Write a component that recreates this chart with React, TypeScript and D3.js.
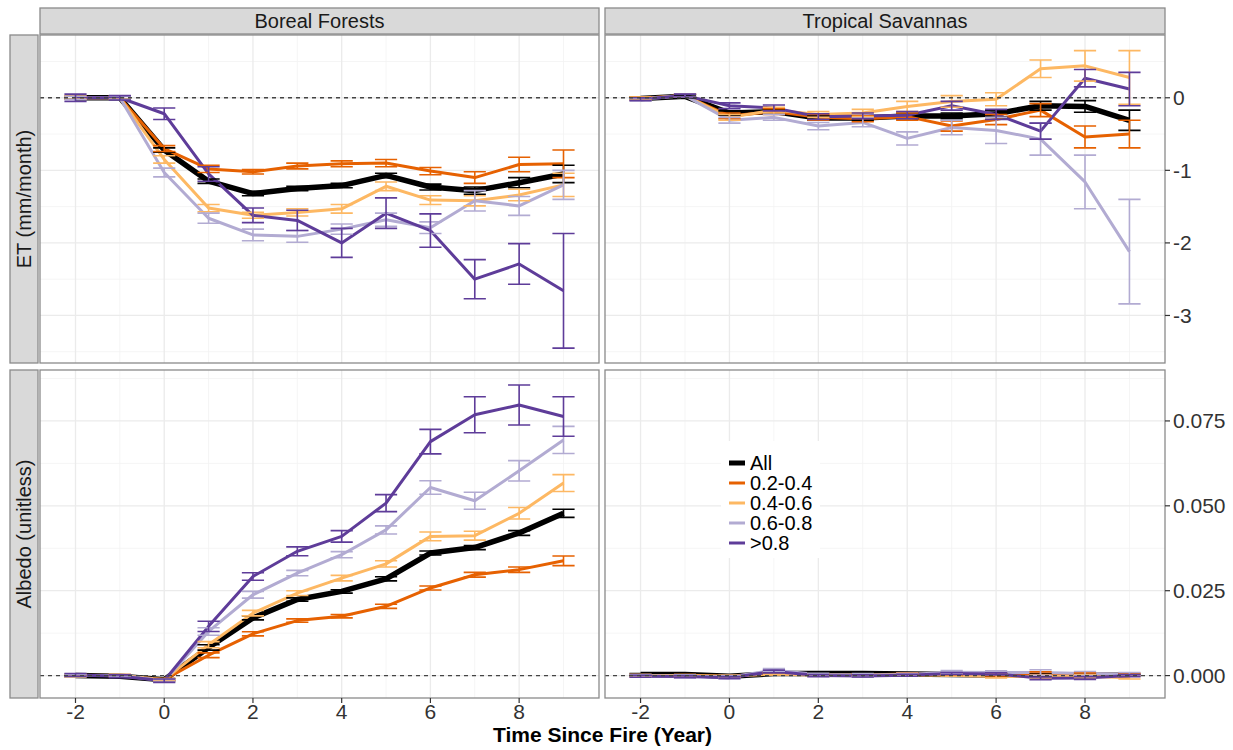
import * as d3 from 'd3'

// categories / labels
const years = [-2, -1, 0, 1, 2, 3, 4, 5, 6, 7, 8, 9]
const groups = ['All', '0.2-0.4', '0.4-0.6', '0.6-0.8', '>0.8']
const groupColors = ['#000000', '#e66101', '#fdb863', '#b2abd2', '#5e3c99']
const colLabels = ['Boreal Forests', 'Tropical Savannas']
const rowLabels = ['ET (mm/month)', 'Albedo (unitless)']
const xTicks = [-2, 0, 2, 4, 6, 8]
const xMinor = [-1, 1, 3, 5, 7, 9]
const etTicks = [0, -1, -2, -3]
const etMinor = [0.5, -0.5, -1.5, -2.5, -3.5]
const albedoTicks = [0, 0.025, 0.05, 0.075]
const albedoMinor = [0.0125, 0.0375, 0.0625, 0.0875]

// ET, boreal forests (rows follow `groups`)
const etBorealMean = [
  [0, 0, -0.72, -1.15, -1.32, -1.25, -1.21, -1.07, -1.23, -1.28, -1.17, -1.05],
  [0, 0, -0.70, -0.98, -1.02, -0.94, -0.91, -0.90, -1.01, -1.10, -0.92, -0.91],
  [0, 0, -0.85, -1.52, -1.62, -1.58, -1.53, -1.22, -1.41, -1.42, -1.34, -1.20],
  [0, 0, -1.03, -1.66, -1.89, -1.91, -1.81, -1.68, -1.79, -1.42, -1.49, -1.20],
  [0, 0, -0.22, -1.05, -1.62, -1.69, -2.00, -1.59, -1.83, -2.50, -2.29, -2.66],
]
const etBorealSe = [
  [0.02, 0.02, 0.03, 0.03, 0.03, 0.03, 0.03, 0.03, 0.04, 0.05, 0.07, 0.12],
  [0.02, 0.02, 0.04, 0.05, 0.03, 0.04, 0.04, 0.05, 0.05, 0.08, 0.10, 0.19],
  [0.02, 0.02, 0.05, 0.05, 0.04, 0.05, 0.06, 0.06, 0.06, 0.07, 0.08, 0.16],
  [0.02, 0.02, 0.06, 0.07, 0.08, 0.08, 0.07, 0.09, 0.08, 0.14, 0.13, 0.20],
  [0.05, 0.03, 0.08, 0.10, 0.10, 0.14, 0.20, 0.21, 0.23, 0.27, 0.28, 0.79],
]

// ET, tropical savannas
const etSavannaMean = [
  [-0.01, 0.02, -0.21, -0.19, -0.28, -0.28, -0.25, -0.25, -0.22, -0.11, -0.12, -0.31],
  [-0.01, 0.03, -0.25, -0.19, -0.27, -0.29, -0.26, -0.39, -0.30, -0.17, -0.54, -0.50],
  [-0.01, 0.03, -0.27, -0.17, -0.23, -0.21, -0.12, -0.05, -0.02, 0.40, 0.44, 0.28],
  [-0.02, 0.03, -0.31, -0.27, -0.39, -0.34, -0.56, -0.41, -0.45, -0.57, -1.16, -2.12],
  [-0.02, 0.03, -0.11, -0.14, -0.26, -0.25, -0.24, -0.11, -0.23, -0.46, 0.27, 0.12],
]
const etSavannaSe = [
  [0.02, 0.02, 0.03, 0.03, 0.03, 0.03, 0.04, 0.04, 0.05, 0.06, 0.08, 0.14],
  [0.02, 0.02, 0.04, 0.04, 0.04, 0.04, 0.05, 0.07, 0.07, 0.09, 0.15, 0.19],
  [0.02, 0.02, 0.04, 0.04, 0.04, 0.05, 0.07, 0.08, 0.09, 0.12, 0.21, 0.37],
  [0.02, 0.02, 0.04, 0.04, 0.05, 0.06, 0.09, 0.10, 0.18, 0.22, 0.37, 0.72],
  [0.02, 0.02, 0.04, 0.04, 0.04, 0.04, 0.05, 0.06, 0.07, 0.11, 0.12, 0.23],
]

// Albedo, boreal forests
const albBorealMean = [
  [0, -0.0002, -0.0012, 0.0083, 0.0170, 0.0224, 0.0248, 0.0285, 0.0361, 0.0377, 0.0420, 0.0478],
  [0, 0, -0.0012, 0.0060, 0.0123, 0.0162, 0.0175, 0.0204, 0.0258, 0.0297, 0.0312, 0.0338],
  [0, 0.0001, -0.0012, 0.0091, 0.0184, 0.0243, 0.0287, 0.0329, 0.0410, 0.0412, 0.0478, 0.0567],
  [0, 0, -0.0015, 0.0130, 0.0238, 0.0302, 0.0356, 0.0429, 0.0554, 0.0515, 0.0603, 0.0694],
  [0.0002, -0.0002, -0.0015, 0.0145, 0.0292, 0.0366, 0.0410, 0.0508, 0.0689, 0.0768, 0.0797, 0.0763],
]
const albBorealSe = [
  [0.0003, 0.0003, 0.0003, 0.0008, 0.0006, 0.0005, 0.0005, 0.0006, 0.0006, 0.0006, 0.0007, 0.0012],
  [0.0003, 0.0003, 0.0003, 0.0007, 0.0006, 0.0005, 0.0005, 0.0006, 0.0006, 0.0007, 0.0008, 0.0014],
  [0.0003, 0.0003, 0.0003, 0.0009, 0.0008, 0.0007, 0.0008, 0.0009, 0.0013, 0.0013, 0.0017, 0.0025],
  [0.0003, 0.0003, 0.0004, 0.0011, 0.0010, 0.0008, 0.0009, 0.0012, 0.0020, 0.0025, 0.0030, 0.0040],
  [0.0004, 0.0004, 0.0005, 0.0015, 0.0011, 0.0013, 0.0017, 0.0025, 0.0036, 0.0053, 0.0059, 0.0058],
]

// Albedo, tropical savannas
const albSavannaMean = [
  [0.0003, 0.0003, -0.0002, 0.0006, 0.0006, 0.0006, 0.0005, 0.0003, 0.0002, 0.0002, 0.0001, 0.0001],
  [0, 0, -0.0002, 0.0007, 0.0002, 0.0002, 0.0005, 0.0003, 0.0003, 0.0007, 0.0004, 0.0003],
  [0, 0, -0.0002, 0.0005, 0.0001, 0.0001, 0.0002, 0.0001, -0.0003, -0.0003, -0.0002, -0.0006],
  [-0.0001, -0.0002, -0.0004, 0.0016, 0.0003, 0.0002, 0.0003, 0.0010, 0.0009, 0.0009, 0.0006, 0.0004],
  [-0.0002, -0.0003, -0.0006, 0.0012, 0.0000, -0.0001, 0.0001, 0.0006, 0.0005, -0.0008, -0.0007, 0.0000],
]
const albSavannaSe = [
  [0.0003, 0.0003, 0.0003, 0.0003, 0.0003, 0.0003, 0.0003, 0.0003, 0.0003, 0.0003, 0.0003, 0.0003],
  [0.0003, 0.0003, 0.0003, 0.0003, 0.0003, 0.0003, 0.0003, 0.0003, 0.0004, 0.0004, 0.0004, 0.0004],
  [0.0003, 0.0003, 0.0003, 0.0003, 0.0003, 0.0003, 0.0003, 0.0003, 0.0004, 0.0004, 0.0004, 0.0004],
  [0.0004, 0.0004, 0.0004, 0.0005, 0.0004, 0.0004, 0.0004, 0.0005, 0.0005, 0.0008, 0.0006, 0.0005],
  [0.0003, 0.0003, 0.0003, 0.0004, 0.0003, 0.0003, 0.0003, 0.0003, 0.0003, 0.0004, 0.0004, 0.0003],
]

const W = 1233
const H = 750
const FONT = "'Liberation Sans', Arial, Helvetica, sans-serif"
const colRanges: [number, number][] = [[40, 599], [605, 1165]]
const rowRanges: [number, number][] = [[35, 363], [370, 698]]
const xDomain: [number, number] = [-2.8, 9.8]
const rowDomains: [number, number][] = [[-3.655, 0.865], [-0.0066, 0.090]]
const rowTicks = [etTicks, albedoTicks]
const rowMinor = [etMinor, albedoMinor]
// plain hyphen for negatives, like R does
const rowFormat = [(d: number) => String(d), (d: number) => d.toFixed(3)]

const panels = [
  { row: 0, col: 0, mean: etBorealMean, se: etBorealSe },
  { row: 0, col: 1, mean: etSavannaMean, se: etSavannaSe },
  { row: 1, col: 0, mean: albBorealMean, se: albBorealSe },
  { row: 1, col: 1, mean: albSavannaMean, se: albSavannaSe },
]

const BORDER = '#8a8a8a'

function Panel({ row, col, mean, se }: { row: number; col: number; mean: number[][]; se: number[][] }) {
  const [x0, x1] = colRanges[col]
  const [y0, y1] = rowRanges[row]
  const x = d3.scaleLinear().domain(xDomain).range([x0, x1])
  const y = d3.scaleLinear().domain(rowDomains[row]).range([y1, y0])
  const line = d3.line<number>().x((_, i) => x(years[i])).y(d => y(d))
  const clipId = `clip-${row}-${col}`
  const capHalf = 0.25
  return (
    <g>
      <defs>
        <clipPath id={clipId}>
          <rect x={x0} y={y0} width={x1 - x0} height={y1 - y0} />
        </clipPath>
      </defs>
      <rect x={x0} y={y0} width={x1 - x0} height={y1 - y0} fill="#fff" />
      {/* minor grid */}
      {xMinor.map(v => (
        <line key={'xm' + v} x1={x(v)} x2={x(v)} y1={y0} y2={y1} stroke="#f2f2f2" strokeWidth={0.8} />
      ))}
      {rowMinor[row].map(v => (
        <line key={'ym' + v} x1={x0} x2={x1} y1={y(v)} y2={y(v)} stroke="#f2f2f2" strokeWidth={0.8} />
      ))}
      {/* major grid */}
      {xTicks.map(v => (
        <line key={'xg' + v} x1={x(v)} x2={x(v)} y1={y0} y2={y1} stroke="#ebebeb" strokeWidth={1.3} />
      ))}
      {rowTicks[row].map(v => (
        <line key={'yg' + v} x1={x0} x2={x1} y1={y(v)} y2={y(v)} stroke="#ebebeb" strokeWidth={1.3} />
      ))}
      <g clipPath={`url(#${clipId})`}>
        {mean.map((m, gi) => (
          <path key={'l' + gi} d={line(m) || ''} fill="none" stroke={groupColors[gi]}
            strokeWidth={gi === 0 ? 5.5 : 3} strokeLinejoin="round" />
        ))}
        {mean.map((m, gi) => (
          <g key={'e' + gi} stroke={groupColors[gi]} strokeWidth={1.6} fill="none">
            {m.map((v, i) => {
              const lo = y(v - se[gi][i])
              const hi = y(v + se[gi][i])
              const xc = x(years[i])
              const xa = x(years[i] - capHalf)
              const xb = x(years[i] + capHalf)
              return (
                <path key={i} d={`M${xa},${hi}H${xb}M${xc},${hi}V${lo}M${xa},${lo}H${xb}`} />
              )
            })}
          </g>
        ))}
        <line x1={x0} x2={x1} y1={y(0)} y2={y(0)} stroke="#444" strokeWidth={1.3} strokeDasharray="4 4" />
      </g>
      <rect x={x0} y={y0} width={x1 - x0} height={y1 - y0} fill="none" stroke={BORDER} strokeWidth={1.3} />
    </g>
  )
}

export default function App() {
  const xs = colRanges.map(r => d3.scaleLinear().domain(xDomain).range(r))
  const ys = rowRanges.map((r, i) => d3.scaleLinear().domain(rowDomains[i]).range([r[1], r[0]]))
  const axisRight = colRanges[1][1]
  const axisBottom = rowRanges[1][1]
  return (
    <div style={{ position: 'absolute', left: 0, top: 0 }}>
      <svg width={W} height={H} style={{ display: 'block', fontFamily: FONT }}>
        <rect width={W} height={H} fill="#fff" />
        {panels.map(p => <Panel key={`${p.row}-${p.col}`} {...p} />)}

        {/* column strips */}
        {colLabels.map((lab, i) => (
          <g key={lab}>
            <rect x={colRanges[i][0]} y={8} width={colRanges[i][1] - colRanges[i][0]} height={26}
              fill="#d9d9d9" stroke={BORDER} strokeWidth={1.3} />
            <text x={(colRanges[i][0] + colRanges[i][1]) / 2} y={21} textAnchor="middle"
              dominantBaseline="central" fontSize={20} fill="#1a1a1a">{lab}</text>
          </g>
        ))}

        {/* row strips on the left */}
        {rowLabels.map((lab, i) => {
          const cy = (rowRanges[i][0] + rowRanges[i][1]) / 2
          return (
            <g key={lab}>
              <rect x={10} y={rowRanges[i][0]} width={28} height={rowRanges[i][1] - rowRanges[i][0]}
                fill="#d9d9d9" stroke={BORDER} strokeWidth={1.3} />
              <text transform={`translate(24,${cy}) rotate(-90)`} textAnchor="middle"
                dominantBaseline="central" fontSize={20} fill="#1a1a1a">{lab}</text>
            </g>
          )
        })}

        {/* right y axes */}
        {rowTicks.map((ticks, ri) => (
          <g key={'ya' + ri}>
            {ticks.map(t => (
              <g key={t} transform={`translate(0,${ys[ri](t)})`}>
                <line x1={axisRight} x2={axisRight + 5} stroke="#333" strokeWidth={1.2} />
                <text x={axisRight + 8} dominantBaseline="central" fontSize={21} fill="#333">
                  {rowFormat[ri](t)}
                </text>
              </g>
            ))}
          </g>
        ))}

        {/* bottom x axes */}
        {xs.map((x, ci) => (
          <g key={'xa' + ci}>
            {xTicks.map(t => (
              <g key={t} transform={`translate(${x(t)},0)`}>
                <line y1={axisBottom} y2={axisBottom + 5} stroke="#333" strokeWidth={1.2} />
                <text y={axisBottom + 21} textAnchor="middle" fontSize={21} fill="#333">{t}</text>
              </g>
            ))}
          </g>
        ))}

        <text x={(colRanges[0][0] + colRanges[1][1]) / 2} y={742} textAnchor="middle"
          fontSize={21} fontWeight="bold" fill="#000">Time Since Fire (Year)</text>

        {/* legend */}
        <g>
          <rect x={721} y={441} width={99} height={117} fill="#fff" />
          {groups.map((g, i) => (
            <g key={g} transform={`translate(729,${463 + i * 20})`}>
              <line x1={0} x2={16} stroke={groupColors[i]} strokeWidth={i === 0 ? 5 : 3} />
              <text x={21} dominantBaseline="central" fontSize={20} fill="#000">{g}</text>
            </g>
          ))}
        </g>
      </svg>
    </div>
  )
}
